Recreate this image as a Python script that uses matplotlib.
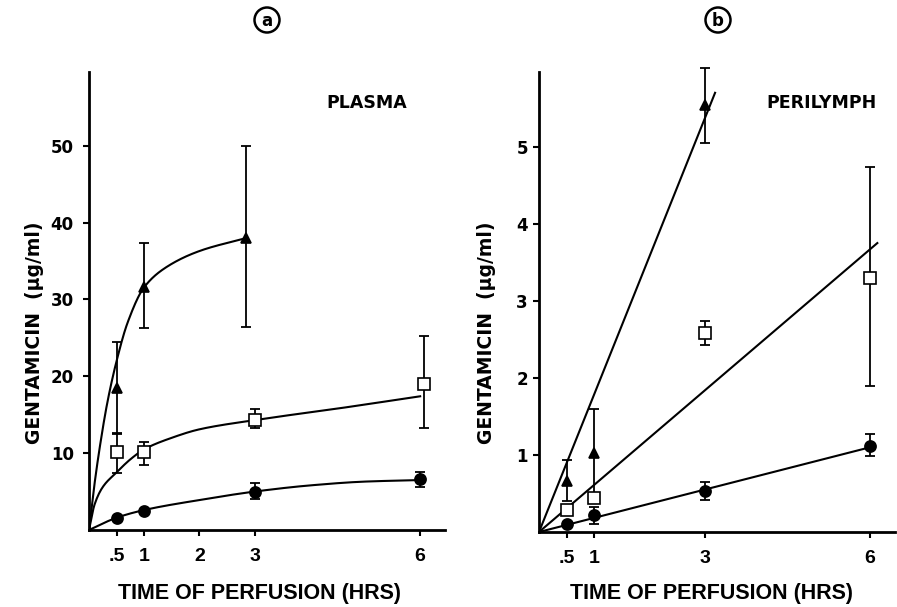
import numpy as np
import matplotlib
matplotlib.use("Agg")
import matplotlib.pyplot as plt
from matplotlib.patches import Circle

# ---------------- data ----------------
# Panel a (PLASMA)
a_tri_x = [0.5, 1.0, 2.85]
a_tri_y = [18.5, 31.6, 38.0]
a_tri_lo = [12.5, 26.3, 26.4]
a_tri_hi = [24.4, 37.4, 50.0]

a_sq_x = [0.5, 1.0, 3.0, 6.07]
a_sq_y = [10.1, 10.1, 14.3, 19.0]
a_sq_lo = [7.4, 8.5, 13.3, 13.3]
a_sq_hi = [12.6, 11.5, 15.7, 25.3]

a_ci_x = [0.5, 1.0, 3.0, 6.0]
a_ci_y = [1.6, 2.5, 5.0, 6.6]
a_ci_lo = [1.6, 2.5, 4.0, 5.6]
a_ci_hi = [1.6, 2.5, 6.1, 7.5]

# hand-drawn smooth curves
a_tri_curve_x = [0, 0.1, 0.2, 0.33, 0.5, 0.7, 1.0, 1.4, 2.0, 2.85]
a_tri_curve_y = [0, 6.0, 11.0, 16.5, 22.0, 27.0, 31.6, 34.2, 36.3, 38.0]
a_sq_curve_x = [0, 0.1, 0.25, 0.5, 0.75, 1.0, 1.5, 2.0, 3.0, 4.5, 6.0]
a_sq_curve_y = [0, 3.3, 5.6, 7.5, 9.2, 10.5, 12.0, 13.1, 14.3, 15.8, 17.4]
a_ci_curve_x = [0, 0.5, 1.0, 2.0, 3.0, 4.0, 5.0, 6.0]
a_ci_curve_y = [0, 1.6, 2.6, 3.9, 5.0, 5.8, 6.3, 6.5]

# Panel b (PERILYMPH)
b_tri_x = [0.5, 1.0, 3.0]
b_tri_y = [0.66, 1.02, 5.54]
b_tri_lo = [0.40, 0.44, 5.05]
b_tri_hi = [0.93, 1.60, 6.02]

b_sq_x = [0.5, 1.0, 3.0, 6.0]
b_sq_y = [0.28, 0.44, 2.58, 3.29]
b_sq_lo = [0.28, 0.44, 2.43, 1.90]
b_sq_hi = [0.28, 0.44, 2.74, 4.74]

b_ci_x = [0.5, 1.0, 3.0, 6.0]
b_ci_y = [0.10, 0.22, 0.53, 1.12]
b_ci_lo = [0.10, 0.10, 0.42, 0.99]
b_ci_hi = [0.10, 0.33, 0.65, 1.27]

# linear fit lines (endpoints)
b_tri_fit_x = [0, 3.19]
b_tri_fit_y = [0, 5.70]
b_sq_fit_x = [0, 6.13]
b_sq_fit_y = [0, 3.75]
b_ci_fit_x = [0, 6.0]
b_ci_fit_y = [0, 1.10]

a_xticks = [0.5, 1, 2, 3, 6]
a_xticklabels = [".5", "1", "2", "3", "6"]
b_xticks = [0.5, 1, 3, 6]
b_xticklabels = [".5", "1", "3", "6"]
a_yticks = [10, 20, 30, 40, 50]
b_yticks = [1, 2, 3, 4, 5]

# ---------------- helpers ----------------
def pchip(x, y, xn):
    x = np.asarray(x, float); y = np.asarray(y, float)
    h = np.diff(x); d = np.diff(y) / h
    n = len(x)
    m = np.zeros(n)
    for k in range(1, n - 1):
        if d[k - 1] * d[k] <= 0:
            m[k] = 0
        else:
            w1 = 2 * h[k] + h[k - 1]
            w2 = h[k] + 2 * h[k - 1]
            m[k] = (w1 + w2) / (w1 / d[k - 1] + w2 / d[k])
    m[0] = d[0]
    m[-1] = d[-1]
    idx = np.clip(np.searchsorted(x, xn) - 1, 0, n - 2)
    t = (xn - x[idx]) / h[idx]
    h00 = 2 * t**3 - 3 * t**2 + 1
    h10 = t**3 - 2 * t**2 + t
    h01 = -2 * t**3 + 3 * t**2
    h11 = t**3 - t**2
    return h00 * y[idx] + h10 * h[idx] * m[idx] + h01 * y[idx + 1] + h11 * h[idx] * m[idx + 1]

def smooth(ax, xs, ys):
    xn = np.linspace(xs[0], xs[-1], 300)
    ax.plot(xn, pchip(xs, ys, xn), color="black", lw=1.5, zorder=2)

def errs(ax, x, y, lo, hi, marker, ms, fc):
    y = np.asarray(y); lo = np.asarray(lo); hi = np.asarray(hi)
    eb = ax.errorbar(x, y, yerr=[y - lo, hi - y], fmt="none", ecolor="black",
                     elinewidth=1.3, capsize=3.5, capthick=1.3, zorder=3)
    for art in eb.lines[1] + eb.lines[2]:
        art.set_clip_on(False)
    ax.plot(x, y, linestyle="none", marker=marker, ms=ms, mfc=fc,
            mec="black", mew=1.2, zorder=4, clip_on=False)

tick_font = dict(family=["Liberation Sans", "DejaVu Sans"], weight="bold", size=14)
ytick_font = dict(family=["DejaVu Sans"], weight="bold", size=12)
lab_font = dict(family=["DejaVu Sans"], weight="bold", size=13.5)
xlab_font = dict(family=["Liberation Sans", "DejaVu Sans"], weight="bold", size=15.5)
title_font = dict(family=["DejaVu Sans"], weight="bold", size=12.5)

fig = plt.figure(figsize=(8.97, 6.07), dpi=100)
axa = fig.add_axes([89/897, 1-530/607, 356/897, 458/607])
axb = fig.add_axes([539/897, 1-532/607, 356/897, 460/607])

for ax in (axa, axb):
    for s in ("top", "right"):
        ax.spines[s].set_visible(False)
    for s in ("left", "bottom"):
        ax.spines[s].set_linewidth(2.0)
    ax.set_xlim(0, 6.45)
    ax.tick_params(axis="both", direction="out", length=4, width=1.5)

# Panel a
axa.set_ylim(0, 59.6)
smooth(axa, a_tri_curve_x, a_tri_curve_y)
smooth(axa, a_sq_curve_x, a_sq_curve_y)
smooth(axa, a_ci_curve_x, a_ci_curve_y)
errs(axa, a_tri_x, a_tri_y, a_tri_lo, a_tri_hi, "^", 7, "black")
errs(axa, a_sq_x, a_sq_y, a_sq_lo, a_sq_hi, "s", 8, "white")
errs(axa, a_ci_x, a_ci_y, a_ci_lo, a_ci_hi, "o", 8, "black")
axa.set_xticks(a_xticks)
axa.set_xticklabels(a_xticklabels, **tick_font)
axa.set_yticks(a_yticks)
axa.set_yticklabels([str(v) for v in a_yticks], **ytick_font)
axa.tick_params(axis="y", pad=7)
axa.tick_params(axis="x", pad=9)
fig.text(367/897, 1-103/607, "PLASMA", ha="center", va="center", **title_font)

# Panel b
axb.set_ylim(0, 5.97)
axb.plot(b_tri_fit_x, b_tri_fit_y, color="black", lw=1.5, zorder=2)
axb.plot(b_sq_fit_x, b_sq_fit_y, color="black", lw=1.5, zorder=2)
axb.plot(b_ci_fit_x, b_ci_fit_y, color="black", lw=1.5, zorder=2)
errs(axb, b_tri_x, b_tri_y, b_tri_lo, b_tri_hi, "^", 7, "black")
errs(axb, b_sq_x, b_sq_y, b_sq_lo, b_sq_hi, "s", 8, "white")
errs(axb, b_ci_x, b_ci_y, b_ci_lo, b_ci_hi, "o", 8, "black")
axb.set_xticks(b_xticks)
axb.set_xticklabels(b_xticklabels, **tick_font)
axb.set_yticks(b_yticks)
axb.set_yticklabels([str(v) for v in b_yticks], **ytick_font)
axb.tick_params(axis="y", pad=4)
axb.tick_params(axis="x", pad=9)
fig.text(822/897, 1-103/607, "PERILYMPH", ha="center", va="center", **title_font)

# axis labels
fig.text(34/897, 1-333/607, "GENTAMICIN  (\u00b5g/ml)", rotation=90, ha="center", va="center", **lab_font)
fig.text(486/897, 1-333/607, "GENTAMICIN  (\u00b5g/ml)", rotation=90, ha="center", va="center", **lab_font)
fig.text(259/897, 1-593/607, "TIME OF PERFUSION (HRS)", ha="center", va="center", **xlab_font)
fig.text(711/897, 1-593/607, "TIME OF PERFUSION (HRS)", ha="center", va="center", **xlab_font)

# circled panel letters (drawn in inch coordinates so they stay round)
for cx, letter in ((267, "a"), (718, "b")):
    cy = 20
    fig.patches.append(Circle((cx/100, (607-cy)/100), 0.125, transform=fig.dpi_scale_trans,
                              fill=False, lw=1.8, ec="black"))
    fig.text(cx/897, 1-(cy+1)/607, letter, ha="center", va="center",
             family=["DejaVu Sans"], weight="bold", size=12)

fig.savefig("out.png", dpi=100)
